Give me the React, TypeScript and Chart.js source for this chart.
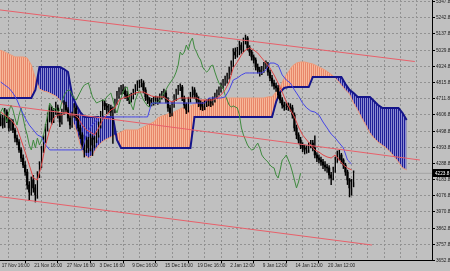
import React, { useEffect, useRef } from 'react';
import { Chart, registerables } from 'chart.js';

Chart.register(...registerables);

// ---------- time axis ----------
const X_LABELS = ['17 Nov 16:00', '21 Nov 16:00', '27 Nov 16:00', '3 Dec 16:00', '9 Dec 16:00', '15 Dec 16:00', '19 Dec 16:00', '2 Jan 12:00', '9 Jan 12:00', '14 Jan 12:00', '20 Jan 12:00'];
const X_LABEL_BARS = [0, 16, 32, 48, 64, 80, 96, 112, 128, 144, 160];
const GRID_BARS = [0, 8, 16, 24, 32, 40, 48, 56, 64, 72, 80, 88, 96, 104, 112, 120, 128, 136, 144, 152, 160, 168, 176, 184, 192, 200, 208];

// ---------- price axis ----------
const Y_TICKS = [5347.8, 5242.8, 5137.8, 5029.8, 4924.8, 4815.8, 4711.8, 4606.8, 4498.8, 4393.8, 4288.8, 4183.8, 4076.8, 3970.8, 3862.8, 3757.8, 3652.8];
const LAST_PRICE = 4223.8;

// ---------- candles (one per bar) ----------
const OPEN = [
  4560, 4586, 4540, 4625, 4573, 4521, 4560, 4508, 4455, 4429,
  4377, 4324, 4278, 4232, 4147, 4101, 4180, 4128, 4082, 4213,
  4278, 4377, 4442, 4521, 4586, 4639, 4573, 4625, 4652, 4606,
  4560, 4625, 4671, 4639, 4586, 4540, 4606, 4652, 4586, 4521,
  4475, 4409, 4377, 4442, 4390, 4455, 4409, 4442, 4475, 4540,
  4606, 4684, 4665, 4639, 4652, 4625, 4639, 4691, 4730, 4756,
  4770, 4766, 4737, 4717, 4704, 4730, 4756, 4783, 4802, 4809,
  4815, 4770, 4724, 4704, 4684, 4691, 4697, 4704, 4700, 4724,
  4737, 4750, 4704, 4652, 4619, 4671, 4717, 4756, 4783, 4789,
  4717, 4671, 4639, 4704, 4737, 4770, 4737, 4704, 4684, 4665,
  4658, 4678, 4684, 4691, 4684, 4704, 4730, 4750, 4770, 4796,
  4815, 4835, 4855, 4887, 4933, 5018, 4999, 5018, 5064, 5032,
  5084, 5110, 5045, 5018, 4986, 4966, 4920, 4900, 4887, 4900,
  4927, 4933, 4887, 4848, 4815, 4796, 4783, 4737, 4704, 4671,
  4658, 4665, 4658, 4652, 4606, 4521, 4475, 4442, 4409, 4390,
  4377, 4380, 4403, 4422, 4390, 4344, 4324, 4311, 4298, 4278,
  4265, 4259, 4213, 4193, 4246, 4311, 4324, 4344, 4311, 4278,
  4232, 4180, 4128, 4167,
];
const HIGH = [
  4610, 4605, 4650, 4640, 4590, 4580, 4575, 4520, 4475, 4445,
  4390, 4345, 4300, 4250, 4170, 4200, 4210, 4150, 4235, 4300,
  4400, 4470, 4545, 4620, 4670, 4660, 4650, 4690, 4670, 4620,
  4645, 4700, 4690, 4655, 4600, 4625, 4680, 4665, 4600, 4540,
  4490, 4430, 4465, 4460, 4480, 4470, 4465, 4500, 4560, 4630,
  4705, 4700, 4680, 4675, 4670, 4660, 4710, 4760, 4785, 4800,
  4805, 4790, 4760, 4740, 4750, 4775, 4805, 4830, 4835, 4840,
  4830, 4785, 4740, 4720, 4715, 4725, 4730, 4725, 4745, 4760,
  4775, 4765, 4720, 4670, 4690, 4740, 4775, 4800, 4810, 4800,
  4730, 4685, 4720, 4755, 4790, 4785, 4750, 4725, 4700, 4690,
  4700, 4705, 4715, 4710, 4725, 4750, 4770, 4790, 4815, 4840,
  4860, 4880, 4920, 4960, 5040, 5045, 5050, 5090, 5080, 5110,
  5130, 5120, 5060, 5030, 5000, 4980, 4940, 4920, 4925, 4950,
  4960, 4950, 4900, 4865, 4835, 4815, 4800, 4755, 4720, 4690,
  4690, 4685, 4680, 4670, 4620, 4540, 4490, 4460, 4425, 4410,
  4405, 4425, 4440, 4440, 4470, 4360, 4345, 4330, 4315, 4300,
  4285, 4275, 4230, 4265, 4330, 4370, 4375, 4355, 4320, 4290,
  4245, 4190, 4185, 4240,
];
const LOW = [
  4535, 4520, 4525, 4555, 4500, 4505, 4490, 4430, 4410, 4360,
  4300, 4260, 4210, 4120, 4045, 4080, 4100, 4036, 4060, 4195,
  4260, 4360, 4425, 4500, 4560, 4545, 4555, 4610, 4585, 4530,
  4545, 4610, 4620, 4565, 4515, 4525, 4590, 4570, 4500, 4450,
  4380, 4330, 4360, 4360, 4370, 4340, 4390, 4425, 4460, 4520,
  4590, 4640, 4615, 4620, 4600, 4420, 4620, 4675, 4715, 4740,
  4745, 4715, 4700, 4680, 4690, 4710, 4740, 4765, 4785, 4790,
  4750, 4700, 4680, 4660, 4665, 4670, 4680, 4675, 4685, 4710,
  4720, 4685, 4630, 4595, 4600, 4655, 4700, 4740, 4765, 4700,
  4650, 4615, 4625, 4690, 4720, 4715, 4685, 4660, 4640, 4635,
  4640, 4660, 4665, 4660, 4670, 4690, 4715, 4735, 4755, 4780,
  4800, 4815, 4840, 4870, 4920, 4975, 4985, 5000, 5010, 5020,
  5070, 5030, 4995, 4965, 4945, 4900, 4880, 4860, 4870, 4885,
  4910, 4865, 4830, 4795, 4775, 4760, 4715, 4685, 4650, 4635,
  4640, 4635, 4630, 4585, 4500, 4450, 4420, 4385, 4365, 4350,
  4355, 4360, 4390, 4370, 4325, 4300, 4290, 4275, 4255, 4240,
  4230, 4190, 4150, 4180, 4230, 4295, 4310, 4290, 4255, 4210,
  4150, 4069, 4080, 4135,
];
const CLOSE = [
  4586, 4540, 4625, 4573, 4521, 4560, 4508, 4455, 4429, 4377,
  4324, 4278, 4232, 4147, 4101, 4180, 4128, 4082, 4213, 4278,
  4377, 4442, 4521, 4586, 4639, 4573, 4625, 4652, 4606, 4560,
  4625, 4671, 4639, 4586, 4540, 4606, 4652, 4586, 4521, 4475,
  4409, 4377, 4442, 4390, 4455, 4409, 4442, 4475, 4540, 4606,
  4684, 4665, 4639, 4652, 4625, 4639, 4691, 4730, 4756, 4770,
  4766, 4737, 4717, 4704, 4730, 4756, 4783, 4802, 4809, 4815,
  4770, 4724, 4704, 4684, 4691, 4697, 4704, 4700, 4724, 4737,
  4750, 4704, 4652, 4619, 4671, 4717, 4756, 4783, 4789, 4717,
  4671, 4639, 4704, 4737, 4770, 4737, 4704, 4684, 4665, 4658,
  4678, 4684, 4691, 4684, 4704, 4730, 4750, 4770, 4796, 4815,
  4835, 4855, 4887, 4933, 5018, 4999, 5018, 5064, 5032, 5084,
  5110, 5045, 5018, 4986, 4966, 4920, 4900, 4887, 4900, 4927,
  4933, 4887, 4848, 4815, 4796, 4783, 4737, 4704, 4671, 4658,
  4665, 4658, 4652, 4606, 4521, 4475, 4442, 4409, 4390, 4377,
  4380, 4403, 4422, 4390, 4344, 4324, 4311, 4298, 4278, 4265,
  4259, 4213, 4193, 4246, 4311, 4324, 4344, 4311, 4278, 4232,
  4180, 4128, 4167, 4224,
];

// ---------- Ichimoku lines (one value every 2 bars) ----------
const LINE_START_BAR = 0;
const LINE_BAR_STEP = 2;
const TENKAN = [
  4625, 4606, 4586, 4560, 4521, 4442, 4363, 4278, 4193, 4180,
  4278, 4409, 4508, 4586, 4606, 4606, 4625, 4606, 4606, 4586,
  4540, 4508, 4494, 4475, 4521, 4573, 4606, 4639, 4652, 4704,
  4717, 4724, 4737, 4750, 4756, 4756, 4743, 4730, 4724, 4724,
  4724, 4704, 4691, 4704, 4717, 4717, 4717, 4717, 4717, 4704,
  4704, 4704, 4704, 4717, 4737, 4770, 4822, 4914, 4953, 4999,
  5032, 5045, 5032, 5012, 4979, 4946, 4914, 4868, 4815, 4756,
  4691, 4639, 4593, 4527, 4475, 4442, 4409, 4377, 4363, 4344,
  4331, 4324, 4344, 4311, 4278, 4259, 4246,
];
const KIJUN = [
  4822, 4802, 4783, 4750, 4704, 4639, 4586, 4540, 4508, 4475,
  4462, 4409, 4377, 4377, 4377, 4377, 4377, 4377, 4377, 4377,
  4377, 4475, 4527, 4560, 4586, 4593, 4593, 4593, 4593, 4593,
  4593, 4593, 4593, 4593, 4593, 4593, 4593, 4684, 4684, 4684,
  4684, 4684, 4684, 4684, 4684, 4684, 4684, 4684, 4684, 4684,
  4684, 4717, 4717, 4717, 4717, 4724, 4770, 4835, 4848, 4868,
  4881, 4881, 4881, 4881, 4881, 4900, 4946, 4946, 4933, 4868,
  4835, 4815, 4770, 4730, 4684, 4652, 4632, 4625, 4606, 4560,
  4521, 4481, 4455, 4422, 4390, 4311, 4285,
];
const CHIKOU_SHIFT = 26;

// ---------- cloud (one value every 2 bars, already shifted forward) ----------
const SPAN_START_BAR = -1;
const SPAN_A = [
  5032, 5025, 5012, 4999, 4986, 4986, 4986, 4979, 4933, 4848,
  4776, 4763, 4756, 4743, 4730, 4704, 4671, 4625, 4573, 4508,
  4409, 4344, 4324, 4344, 4390, 4422, 4442, 4455, 4468, 4481,
  4494, 4508, 4508, 4508, 4508, 4521, 4534, 4547, 4560, 4586,
  4599, 4606, 4619, 4625, 4639, 4652, 4658, 4665, 4678, 4691,
  4704, 4704, 4704, 4711, 4717, 4717, 4717, 4717, 4717, 4717,
  4717, 4717, 4717, 4717, 4717, 4717, 4724, 4724, 4756, 4789,
  4848, 4887, 4927, 4946, 4953, 4953, 4946, 4940, 4927, 4914,
  4900, 4881, 4861, 4835, 4802, 4770, 4743, 4684, 4639, 4586,
  4540, 4488, 4455, 4429, 4409, 4390, 4363, 4331, 4298, 4259,
  4246,
];
const SPAN_B = [
  4717, 4717, 4717, 4717, 4717, 4717, 4717, 4717, 4717, 4770,
  4920, 4920, 4920, 4920, 4920, 4920, 4907, 4887, 4737, 4671,
  4625, 4593, 4593, 4593, 4593, 4593, 4593, 4593, 4593, 4442,
  4390, 4390, 4390, 4390, 4390, 4390, 4390, 4390, 4390, 4390,
  4390, 4390, 4390, 4390, 4390, 4390, 4390, 4390, 4593, 4593,
  4593, 4593, 4593, 4593, 4593, 4593, 4593, 4593, 4593, 4593,
  4593, 4593, 4593, 4593, 4593, 4593, 4593, 4593, 4691, 4756,
  4783, 4789, 4789, 4789, 4789, 4789, 4789, 4855, 4855, 4855,
  4855, 4855, 4855, 4855, 4855, 4809, 4770, 4750, 4724, 4724,
  4724, 4724, 4697, 4671, 4652, 4652, 4652, 4652, 4652, 4619,
  4573,
];

// ---------- trend channel ----------
const CHANNEL_TOP = [5295, 4956];
const CHANNEL_TOP_BARS = [-1, 203];
const CHANNEL_MID = [4676, 4311];
const CHANNEL_MID_BARS = [-1, 205.5];
const CHANNEL_BOT = [4072, 3754];
const CHANNEL_BOT_BARS = [-1, 182];

const FONT = { family: "'Liberation Sans', Arial, sans-serif", size: 4.7 };

export default function App() {
  const ref = useRef<HTMLCanvasElement | null>(null);

  useEffect(() => {
    const canvas = ref.current;
    if (!canvas) return;
    const ctx2 = canvas.getContext('2d')!;
    const hatch = (a: string, b: string) => {
      const c = document.createElement('canvas');
      c.width = 2;
      c.height = 1;
      const g = c.getContext('2d')!;
      g.fillStyle = a;
      g.fillRect(0, 0, 1, 1);
      g.fillStyle = b;
      g.fillRect(1, 0, 1, 1);
      return ctx2.createPattern(c, 'repeat') as CanvasPattern;
    };
    const salmon = hatch('#f7b899', '#e8866a');
    const navy = hatch('#1e1e96', '#8c8cd2');

    const lineData = (arr: number[], start: number, step: number) => arr.map((v, k) => ({ x: start + k * step, y: v }));
    const pairData = (vals: number[], bars: number[]) => vals.map((v, k) => ({ x: bars[k], y: v }));

    const bars = CLOSE.map((_, i) => i);
    const line = (label: string, data: any[], color: string, width: number, order: number, extra: any = {}) => ({
      type: 'line', label, data, borderColor: color, borderWidth: width, pointRadius: 0, tension: 0, fill: false, order, ...extra,
    });

    const datasets: any[] = [
      line('bid', [{ x: -1, y: LAST_PRICE }, { x: 212, y: LAST_PRICE }], '#a4a4a4', 1, 20),
      // index 1: span A with cloud fill towards span B (index 2)
      line('spanA', lineData(SPAN_A, SPAN_START_BAR, LINE_BAR_STEP), '#f09a78', 1, 15, {
        fill: { target: 2, above: salmon, below: navy },
      }),
      line('spanB', lineData(SPAN_B, SPAN_START_BAR, LINE_BAR_STEP), '#14148a', 2, 14),
      {
        type: 'bar', label: 'body', data: bars.map((i) => ({ x: i, y: [OPEN[i], CLOSE[i]] })),
        backgroundColor: bars.map((i) => (CLOSE[i] >= OPEN[i] ? '#f2f2f2' : '#000000')),
        barThickness: 1.6, grouped: false, order: 11, borderWidth: 0,
      },
      {
        type: 'bar', label: 'wick', data: bars.map((i) => ({ x: i, y: [LOW[i], HIGH[i]] })),
        backgroundColor: '#000000', barThickness: 0.8, grouped: false, order: 10, borderWidth: 0,
      },
      line('chikou', CLOSE.map((v, i) => ({ x: i - CHIKOU_SHIFT, y: v })), '#3f8a3f', 1, 6),
      line('kijun', lineData(KIJUN, LINE_START_BAR, LINE_BAR_STEP), '#4646e6', 1, 5),
      line('tenkan', lineData(TENKAN, LINE_START_BAR, LINE_BAR_STEP), '#e04848', 1, 4),
      line('chTop', pairData(CHANNEL_TOP, CHANNEL_TOP_BARS), '#e8606a', 1, 2),
      line('chMid', pairData(CHANNEL_MID, CHANNEL_MID_BARS), '#e8606a', 1, 2),
      line('chBot', pairData(CHANNEL_BOT, CHANNEL_BOT_BARS), '#e8606a', 1, 2),
    ];

    const bg = {
      id: 'bg',
      beforeDraw(chart: any) {
        const c = chart.ctx;
        c.save();
        c.fillStyle = '#c0c0c0';
        c.fillRect(0, 0, chart.width, chart.height);
        c.restore();
      },
    };
    const priceBox = {
      id: 'priceBox',
      afterDraw(chart: any) {
        const c = chart.ctx;
        const y = chart.scales.y.getPixelForValue(LAST_PRICE);
        const x = chart.chartArea.right + 1;
        c.save();
        c.fillStyle = '#000000';
        c.fillRect(x, Math.round(y) - 4, chart.width - x, 8);
        c.fillStyle = '#ffffff';
        c.font = `${FONT.size}px ${FONT.family}`;
        c.textBaseline = 'middle';
        c.textAlign = 'left';
        c.fillText(LAST_PRICE.toFixed(1), x + 2, y);
        c.restore();
      },
    };

    const chart = new Chart(canvas, {
      type: 'bar',
      data: { datasets },
      options: {
        animation: false,
        responsive: false,
        events: [],
        layout: { padding: 0 },
        plugins: { legend: { display: false }, tooltip: { enabled: false } },
        scales: {
          x: {
            type: 'linear',
            position: 'bottom',
            min: -0.343,
            max: 211.43,
            offset: false,
            grid: {
              color: '#929292',
              lineWidth: 1,
              drawTicks: true,
              tickLength: 3,
              tickBorderDash: [],
              tickColor: (c: any) => (c.tick && X_LABEL_BARS.includes(c.tick.value) ? '#000000' : 'rgba(0,0,0,0)'),
            },
            border: { display: true, color: '#000000', width: 1, dash: [2, 2] },
            ticks: {
              autoSkip: false,
              maxRotation: 0,
              minRotation: 0,
              align: 'start',
              padding: 0,
              labelOffset: 1,
              color: '#1e1e1e',
              font: FONT,
              callback: (v: any) => {
                const k = X_LABEL_BARS.indexOf(Number(v));
                return k >= 0 ? X_LABELS[k] : '';
              },
            },
            afterBuildTicks: (s: any) => {
              s.ticks = GRID_BARS.map((v) => ({ value: v }));
            },
            afterFit: (s: any) => {
              s.height = 11;
              s.paddingLeft = 0;
              s.paddingRight = 0;
            },
          } as any,
          y: {
            type: 'linear',
            position: 'right',
            min: 3656,
            max: 5359,
            grid: { color: '#929292', lineWidth: 1, drawTicks: true, tickLength: 3, tickColor: '#000000', tickBorderDash: [] },
            border: { display: true, color: '#000000', width: 1, dash: [2, 2] },
            ticks: {
              autoSkip: false,
              padding: 1,
              color: '#1e1e1e',
              font: FONT,
              callback: (v: any) => Number(v).toFixed(1),
            },
            afterBuildTicks: (s: any) => {
              s.ticks = Y_TICKS.map((v) => ({ value: v }));
            },
            afterFit: (s: any) => {
              s.width = 18;
              s.paddingTop = 0;
              s.paddingBottom = 0;
            },
          } as any,
        },
      } as any,
      plugins: [bg, priceBox],
    });
    return () => chart.destroy();
  }, []);

  return (
    <div style={{ position: 'fixed', left: 0, top: 0, width: 450, height: 271, background: '#c0c0c0' }}>
      <canvas ref={ref} width={450} height={271} style={{ display: 'block', width: 450, height: 271 }} />
    </div>
  );
}
